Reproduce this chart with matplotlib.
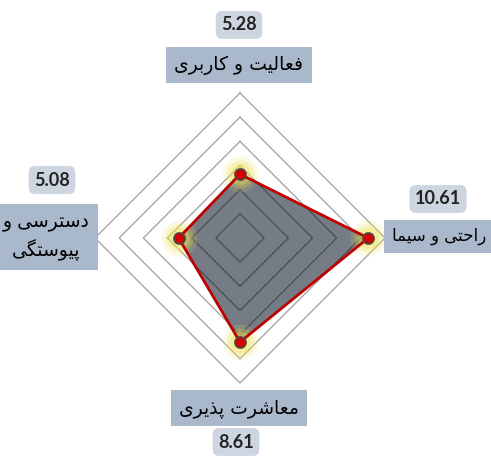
import numpy as np
import matplotlib
matplotlib.use("Agg")
import matplotlib.pyplot as plt

# ---------------- data ----------------
categories = ["فعالیت و کاربری", "راحتی و سیما", "معاشرت پذیری", "دسترسی و\nپیوستگی"]
values = [5.28, 10.61, 8.61, 5.08]
value_labels = ["5.28", "10.61", "8.61", "5.08"]
grid_levels = [2, 4, 6, 8, 10, 12]

# ---------------- minimal Persian shaping ----------------
FORMS = {  # isolated, final, initial, medial
    'ا': ('\uFE8D', '\uFE8E', None, None),
    'ب': ('\uFE8F', '\uFE90', '\uFE91', '\uFE92'),
    'پ': ('\uFB56', '\uFB57', '\uFB58', '\uFB59'),
    'ت': ('\uFE95', '\uFE96', '\uFE97', '\uFE98'),
    'ح': ('\uFEA1', '\uFEA2', '\uFEA3', '\uFEA4'),
    'د': ('\uFEA9', '\uFEAA', None, None),
    'ذ': ('\uFEAB', '\uFEAC', None, None),
    'ر': ('\uFEAD', '\uFEAE', None, None),
    'س': ('\uFEB1', '\uFEB2', '\uFEB3', '\uFEB4'),
    'ش': ('\uFEB5', '\uFEB6', '\uFEB7', '\uFEB8'),
    'ع': ('\uFEC9', '\uFECA', '\uFECB', '\uFECC'),
    'ف': ('\uFED1', '\uFED2', '\uFED3', '\uFED4'),
    'ک': ('\uFB8E', '\uFB8F', '\uFB90', '\uFB91'),
    'گ': ('\uFB92', '\uFB93', '\uFB94', '\uFB95'),
    'ل': ('\uFEDD', '\uFEDE', '\uFEDF', '\uFEE0'),
    'م': ('\uFEE1', '\uFEE2', '\uFEE3', '\uFEE4'),
    'و': ('\uFEED', '\uFEEE', None, None),
    'ی': ('\uFBFC', '\uFBFD', '\uFBFE', '\uFBFF'),
}


def shape_word(line):
    out = []
    n = len(line)
    for i, ch in enumerate(line):
        if ch not in FORMS:
            out.append(ch)
            continue
        f = FORMS[ch]
        prev = line[i - 1] if i > 0 else None
        nxt = line[i + 1] if i < n - 1 else None
        join_prev = prev in FORMS and FORMS[prev][2] is not None
        join_next = nxt in FORMS and f[2] is not None
        if join_prev and join_next:
            out.append(f[3])
        elif join_prev:
            out.append(f[1])
        elif join_next:
            out.append(f[2])
        else:
            out.append(f[0])
    return ''.join(reversed(out))


def shape(text):
    return '\n'.join(shape_word(l) for l in text.split('\n'))


# ---------------- figure ----------------
W, H = 491, 457
fig = plt.figure(figsize=(W / 100, H / 100), dpi=100)
cx, cy, R = 240, 238, 145
ax = fig.add_axes([(cx - R) / W, (H - cy - R) / H, 2 * R / W, 2 * R / H], polar=True)
ax.set_theta_zero_location('N')
ax.set_theta_direction(-1)
ax.set_ylim(0, max(grid_levels))
ax.set_axis_off()

angles = np.deg2rad([0, 90, 180, 270])
ang_c = np.append(angles, angles[0])
val_c = np.append(values, values[0])

# grid rings (diamonds)
for lv in grid_levels:
    ax.plot(ang_c, [lv] * 5, color='#a6a6a6', lw=1.0, zorder=1, clip_on=False)

# filled area
ax.fill(ang_c, val_c, color='#6e7580', alpha=0.95, zorder=2)
n_before = len(ax.lines)
for lv in grid_levels:
    ax.plot(ang_c, [lv] * 5, color='#4a4f56', lw=0.9, zorder=3)
poly = ax.fill(ang_c, val_c, facecolor='none', edgecolor='none', zorder=0)[0]
for line in ax.lines[n_before:]:
    line.set_clip_path(poly)

# glow
for s, a in [(26, 0.15), (20, 0.25), (15, 0.35)]:
    ax.plot(angles, values, 'o', ms=s, color='#f0e050', alpha=a, mew=0, zorder=4)
ax.plot(ang_c, val_c, color='#c00000', lw=2.0, zorder=5)
ax.plot(angles, values, 'o', ms=8, mfc='#d40000', mec='#4a4a4a', mew=1.2, zorder=6)

# ---------------- labels ----------------
ar_font = ['DejaVu Sans']
num_font = ['Lato', 'DejaVu Sans']
lab_bg = '#a9b8cb'
val_bg = '#cdd6e0'

# (x, y, ha, fontsize)
label_pos = [(239, 65, 'center', 13.5), (486, 236, 'right', 12),
             (239, 408, 'center', 13.5), (46, 237, 'center', 13.5)]
value_pos = [(239, 25), (438, 199), (236, 442), (52, 180)]

for cat, (x, y, ha, fs) in zip(categories, label_pos):
    fig.text(x / W, 1 - y / H, shape(cat), family=ar_font, fontsize=fs,
             ha=ha, va='center', ma='center', linespacing=1.45,
             bbox=dict(boxstyle='square,pad=0.45', fc=lab_bg, ec='none'))

for vl, (x, y) in zip(value_labels, value_pos):
    fig.text(x / W, 1 - y / H, vl, family=num_font, fontsize=13, weight='bold',
             color='#222222', ha='center', va='center',
             bbox=dict(boxstyle='round,pad=0.3,rounding_size=0.35', fc=val_bg, ec='none'))

fig.savefig('out.png', dpi=100)
